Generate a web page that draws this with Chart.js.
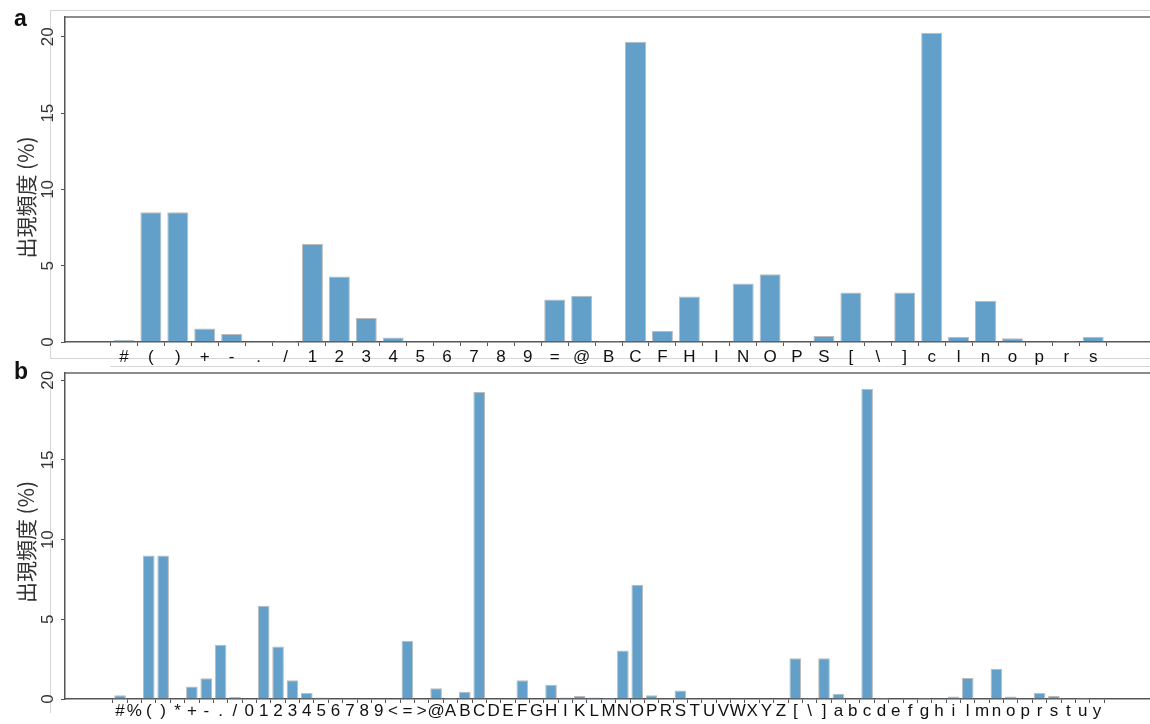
<!DOCTYPE html>
<html>
<head>
<meta charset="utf-8">
<script src="https://cdn.jsdelivr.net/npm/chart.js@4"></script>
<style>
  html, body { margin: 0; padding: 0; background: #fff; }
  body { width: 1150px; height: 724px; position: relative; overflow: hidden; font-family: "Liberation Sans", Arial, sans-serif; }
  .panel { position: absolute; left: 0; width: 1150px; }
  .tag { position: absolute; left: 14px; font-weight: bold; font-size: 23px; line-height: 1; color: #111; }
  .rule { position: absolute; border: 0 solid #d6d6d6; }
</style>
</head>
<body>
<div class="rule" style="left:50px;top:10px;width:1100px;height:347px;border-left-width:1px;border-top-width:1px;border-bottom-width:1px"></div>
<div class="rule" style="left:110px;top:366px;width:1040px;border-top-width:1px"></div>
<div class="rule" style="left:50px;top:375px;height:338px;border-left-width:1px"></div>

<div class="panel" style="top:0;height:372px"><canvas id="chartA" width="1150" height="372"></canvas></div>
<div class="panel" style="top:362px;height:362px"><canvas id="chartB" width="1150" height="362"></canvas></div>

<div class="tag" style="top:7px">a</div>
<div class="tag" style="top:360px">b</div>

<script>
// character frequencies (%)
const catsA = ['#', '(', ')', '+', '-', '.', '/', '1', '2', '3', '4', '5', '6', '7', '8', '9', '=', '@',
  'B', 'C', 'F', 'H', 'I', 'N', 'O', 'P', 'S', '[', '\\', ']', 'c', 'l', 'n', 'o', 'p', 'r', 's'];
const valsA = [0.13, 8.5, 8.5, 0.89, 0.52, 0, 0.07, 6.43, 4.29, 1.58, 0.3, 0.03, 0, 0, 0, 0, 2.79, 3.03,
  0.07, 19.67, 0.72, 2.98, 0, 3.84, 4.44, 0, 0.39, 3.25, 0.03, 3.25, 20.26, 0.35, 2.7, 0.24, 0, 0.07, 0.35];

const catsB = ['#', '%', '(', ')', '*', '+', '-', '.', '/', '0', '1', '2', '3', '4', '5', '6', '7', '8', '9',
  '<', '=', '>', '@', 'A', 'B', 'C', 'D', 'E', 'F', 'G', 'H', 'I', 'K', 'L', 'M', 'N', 'O', 'P', 'R', 'S',
  'T', 'U', 'V', 'W', 'X', 'Y', 'Z', '[', '\\', ']', 'a', 'b', 'c', 'd', 'e', 'f', 'g', 'h', 'i', 'l', 'm',
  'n', 'o', 'p', 'r', 's', 't', 'u', 'y'];
const valsB = [0.23, 0, 9.0, 9.0, 0, 0.79, 1.3, 3.41, 0.13, 0, 5.85, 3.3, 1.17, 0.38, 0.1, 0, 0, 0, 0,
  0, 3.66, 0, 0.67, 0.06, 0.46, 19.27, 0, 0, 1.17, 0, 0.9, 0.1, 0.19, 0.1, 0.06, 3.05, 7.17, 0.23, 0, 0.54,
  0, 0, 0, 0, 0, 0, 0, 2.55, 0.06, 2.55, 0.33, 0, 19.45, 0.06, 0, 0, 0.06, 0, 0.15, 1.32, 0,
  1.9, 0.15, 0, 0.38, 0.19, 0, 0.06, 0];

const yTicks = [0, 5, 10, 15, 20];
const yTitle = '出現頻度 (%)';

const BAR_FILL = '#62a0ca';
const BAR_EDGE = '#bcbcbc';
const AXIS = '#555';

// dark line along the top of the plot area
const topFrame = {
  id: 'topFrame',
  afterDraw(chart) {
    const { ctx, chartArea } = chart;
    ctx.save();
    ctx.strokeStyle = '#666';
    ctx.lineWidth = 1.5;
    ctx.beginPath();
    ctx.moveTo(chartArea.left, chartArea.top);
    ctx.lineTo(chartArea.right, chartArea.top);
    ctx.stroke();
    ctx.restore();
  }
};

// rotated y-axis title, placed a little below the plot's middle
const sideTitle = {
  id: 'sideTitle',
  afterDraw(chart, args, o) {
    const { ctx, chartArea } = chart;
    ctx.save();
    ctx.translate(o.x, (chartArea.top + chartArea.bottom) / 2 + o.shift);
    ctx.rotate(-Math.PI / 2);
    ctx.font = "21px 'Noto Sans CJK JP', sans-serif";
    ctx.fillStyle = '#333';
    ctx.textAlign = 'center';
    ctx.textBaseline = 'middle';
    ctx.fillText(o.text, 0, 0);
    ctx.restore();
  }
};

function makePanel(id, cats, vals, opt) {
  return new Chart(document.getElementById(id), {
    type: 'bar',
    data: {
      datasets: [{
        data: vals.map((v, i) => ({ x: i, y: v })),
        backgroundColor: BAR_FILL,
        borderColor: BAR_EDGE,
        borderWidth: 1,
        barPercentage: opt.barPct,
        categoryPercentage: 1
      }]
    },
    options: {
      responsive: false,
      animation: false,
      layout: { padding: { top: opt.padTop, left: 0, right: 0, bottom: 0 } },
      plugins: {
        legend: { display: false },
        tooltip: { enabled: false },
        sideTitle: { text: yTitle, x: 26, shift: opt.titleShift }
      },
      scales: {
        x: {
          type: 'linear',
          offset: false,
          min: opt.xMin,
          max: opt.xMax,
          afterBuildTicks: s => { s.ticks = cats.map((_, i) => ({ value: i })); },
          afterFit: s => { s.height = opt.axisH; s.paddingLeft = 0; s.paddingRight = 0; },
          grid: { display: true, drawOnChartArea: false, drawTicks: true, tickLength: 4, color: AXIS, lineWidth: 1 },
          border: { display: true, color: AXIS, width: 1.5 },
          ticks: {
            autoSkip: false, minRotation: 0, maxRotation: 0, padding: opt.labelPad,
            color: '#111', font: { family: 'Liberation Sans', size: 17 },
            callback: v => cats[v]
          }
        },
        y: {
          min: 0,
          max: opt.yMax,
          afterBuildTicks: s => { s.ticks = yTicks.map(v => ({ value: v })); },
          afterFit: s => { s.width = 65; s.paddingTop = 0; s.paddingBottom = 0; },
          grid: { display: true, drawOnChartArea: false, drawTicks: true, tickLength: 4, color: AXIS, lineWidth: 1 },
          border: { display: true, color: AXIS, width: 1.5 },
          ticks: {
            minRotation: 90, maxRotation: 90, crossAlign: 'center', padding: 3,
            color: '#333', font: { family: 'Liberation Sans', size: 17 }
          }
        }
      }
    },
    plugins: [topFrame, sideTitle]
  });
}

makePanel('chartA', catsA, valsA, {
  yMax: 21.3, xMin: -2.19, xMax: 38.11, barPct: 0.78, axisH: 30, padTop: 17, labelPad: 1, titleShift: 18
});

makePanel('chartB', catsB, valsB, {
  yMax: 20.46, xMin: -3.83, xMax: 71.69, barPct: 0.81, axisH: 25, padTop: 11, labelPad: -2, titleShift: 6
});
</script>
</body>
</html>
